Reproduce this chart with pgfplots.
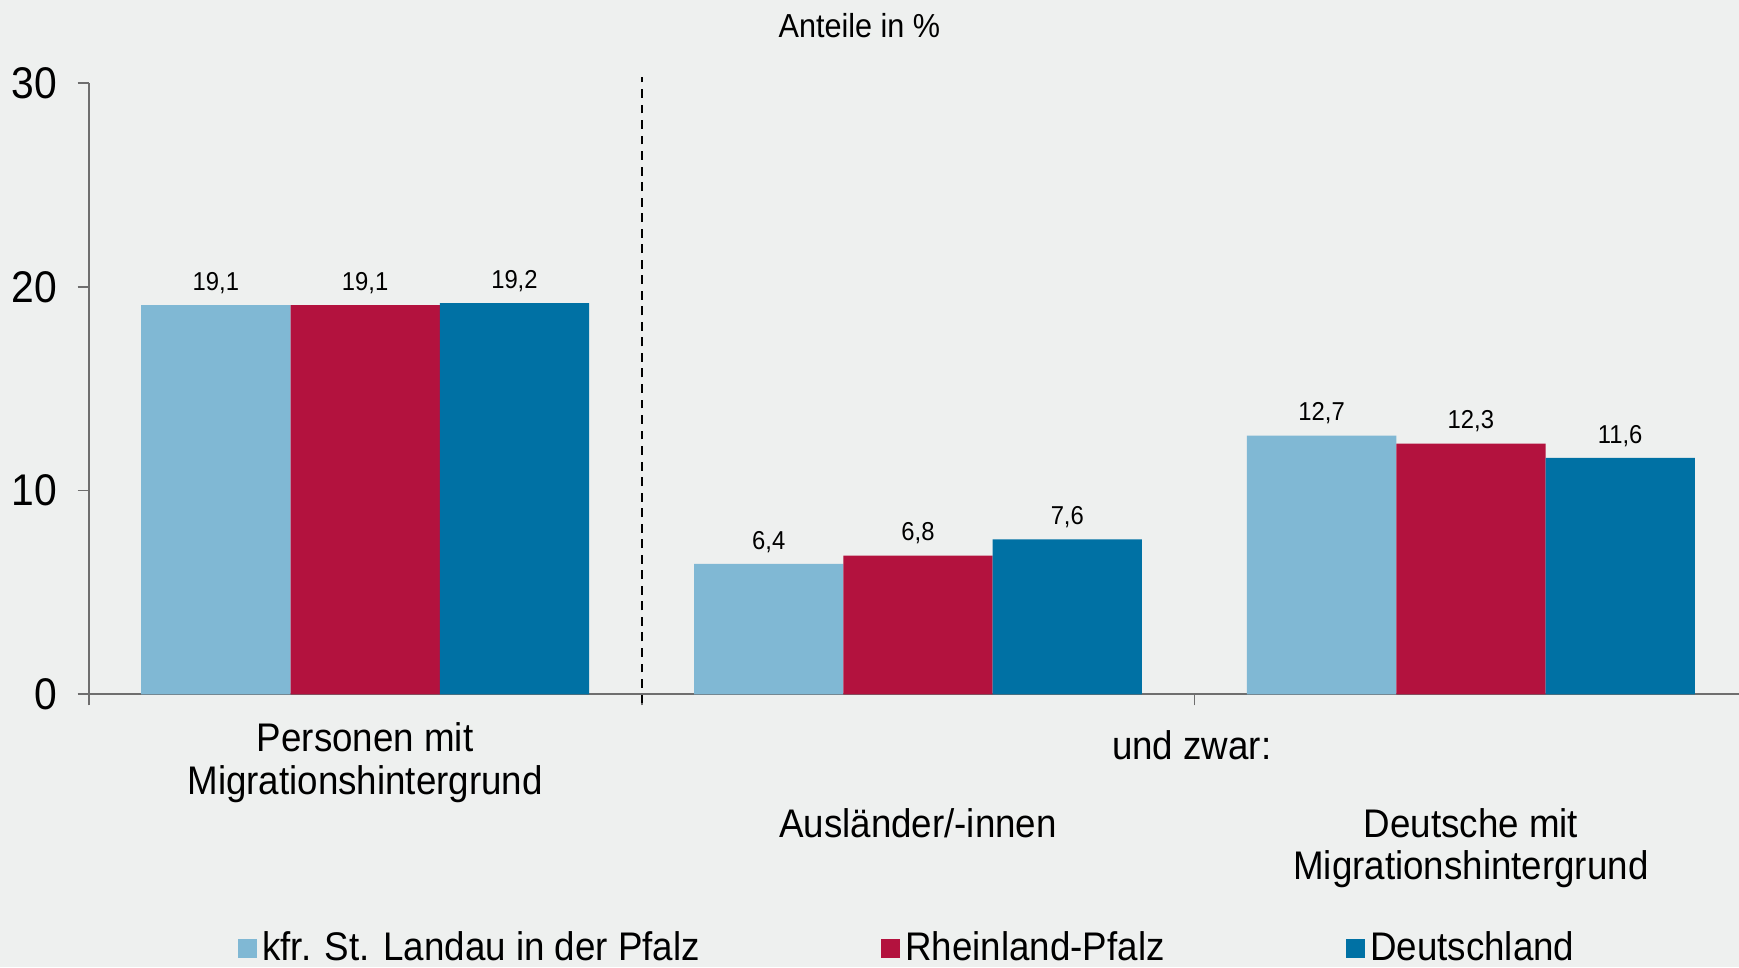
\documentclass[border=0pt]{standalone}
\usepackage{fontspec}
\setmainfont{Liberation Sans}[FakeStretch=0.92]
\usepackage{pgfplots}
\pgfplotsset{compat=1.18}

\definecolor{bg}{HTML}{EEF0EF}
\definecolor{cLandau}{HTML}{80B8D4}
\definecolor{cRLP}{HTML}{B3123E}
\definecolor{cDE}{HTML}{0071A4}
\definecolor{axisgrey}{HTML}{6E6E6E}

\newcommand{\catfont}{\fontsize{10.8}{11.5}\selectfont}

\begin{document}
\begin{tikzpicture}
\fill[bg] (-24pt,-73.8pt) rectangle (446.4pt,187.8pt);
\useasboundingbox (-24pt,-73.8pt) rectangle (446.4pt,187.8pt);
\begin{axis}[
    scale only axis, width=446.4pt, height=165.3pt,
    xmin=0, xmax=2.985, ymin=0, ymax=30,
    axis lines*=left,
    axis line style={axisgrey, line width=0.5pt},
    every tick/.style={axisgrey, line width=0.5pt},
    tick align=outside, major tick length=3pt,
    xtick={0,1,2}, xticklabels={},
    ytick={0,10,20,30},
    yticklabel style={font=\fontsize{12}{12}\selectfont, xshift=-2pt},
    /pgf/number format/assume math mode=true,
    ybar, bar width=0.27,
    clip=false,
    nodes near coords,
    every node near coord/.append style={font=\fontsize{7}{8}\selectfont,
        anchor=base, inner sep=0pt, yshift=4pt,
        /pgf/number format/.cd, use comma, fixed, precision=1, fixed zerofill},
    legend columns=3,
    legend style={draw=none, fill=none, at={(0.497,-0.416)}, anchor=center,
        font=\catfont, inner sep=0pt,
        nodes={inner sep=1.5pt},
        /tikz/every even column/.append style={column sep=47.5pt}},
    legend image code/.code={\fill[#1] (0pt,-2.5pt) rectangle (5.1pt,2.6pt);},
]
\addplot[fill=cLandau, draw=none, bar shift=-0.27] coordinates {(0.5,19.1) (1.5,6.4) (2.5,12.7)};
\addplot[fill=cRLP, draw=none, bar shift=0] coordinates {(0.5,19.1) (1.5,6.8) (2.5,12.3)};
\addplot[fill=cDE, draw=none, bar shift=0.27] coordinates {(0.5,19.2) (1.5,7.6) (2.5,11.6)};
\legend{kfr. St. Landau in der Pfalz, Rheinland-Pfalz, Deutschland}

\draw[black, line width=0.5pt, dash pattern=on 2.4pt off 1.8pt] (axis cs:1,-0.45) -- (axis cs:1,30.3);

\node[anchor=base, font=\fontsize{9}{10}\selectfont] at (axis cs:1.394,30) [yshift=12.3pt] {Anteile in \%};

\node[anchor=base, font=\catfont] at (axis cs:0.5,0) [yshift=-15.6pt] {Personen mit};
\node[anchor=base, font=\catfont] at (axis cs:0.5,0) [yshift=-27pt] {Migrationshintergrund};
\node[anchor=base, font=\catfont] at (axis cs:1.995,0) [yshift=-17.7pt] {und zwar:};
\node[anchor=base, font=\catfont] at (axis cs:1.5,0) [yshift=-38.7pt] {Ausländer/-innen};
\node[anchor=base, font=\catfont] at (axis cs:2.5,0) [yshift=-38.7pt] {Deutsche mit};
\node[anchor=base, font=\catfont] at (axis cs:2.5,0) [yshift=-50.1pt] {Migrationshintergrund};
\end{axis}
\end{tikzpicture}
\end{document}
